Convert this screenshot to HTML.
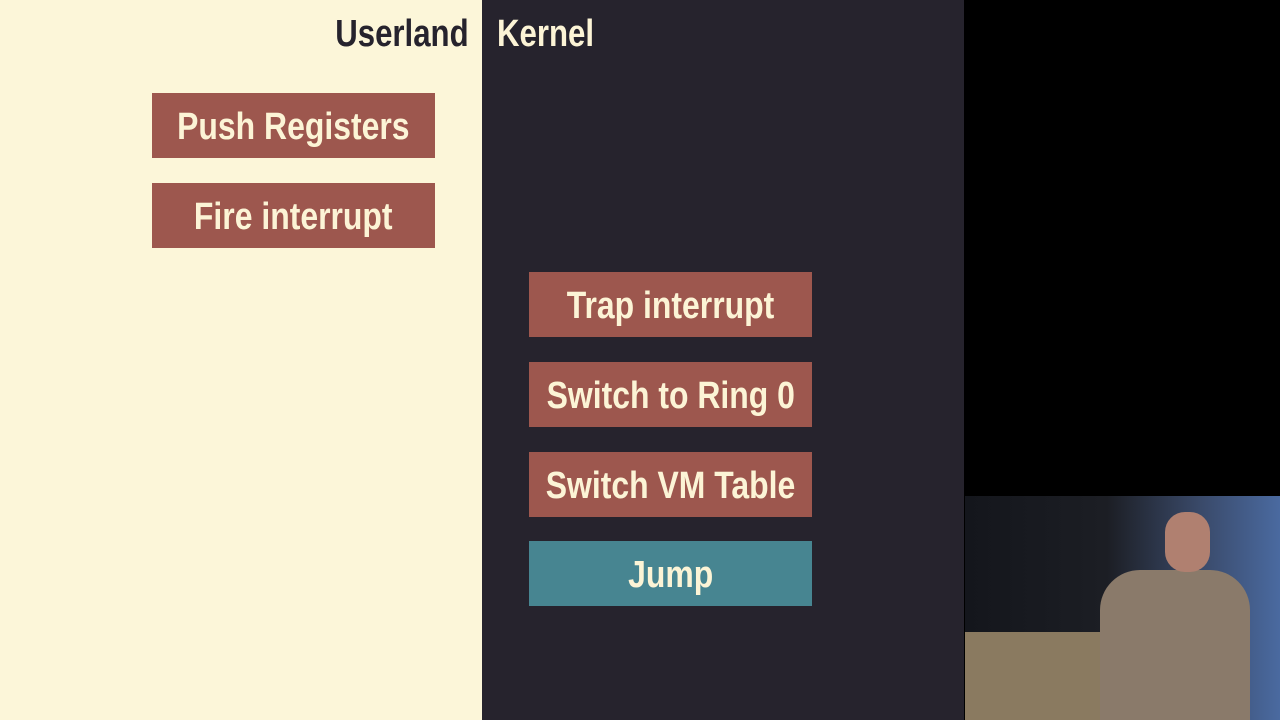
<!DOCTYPE html>
<html><head><meta charset="utf-8"><style>
html,body{margin:0;padding:0;width:1280px;height:720px;overflow:hidden;background:#000}
.p{position:absolute;top:0;height:720px}
.t{position:absolute;font-family:"Liberation Sans",sans-serif;font-weight:bold;font-size:38px;line-height:40px;top:14px;transform:scaleX(0.82)}
.b{position:absolute;width:283px;height:65px;background:#9d574e;color:#fcf4d6;font-family:"Liberation Sans",sans-serif;font-weight:bold;font-size:38px;line-height:69px;display:flex;justify-content:center;white-space:nowrap}
.b span{display:block;flex:none;transform:scaleX(0.84)}
</style></head><body>
<div class="p" style="left:0;width:482px;background:#fcf6d9"></div>
<div class="p" style="left:482px;width:482px;background:#26232d"></div>
<div class="t" style="right:811px;color:#26232d;transform-origin:right center">Userland</div>
<div class="t" style="left:497px;color:#fcf4d6;transform-origin:left center">Kernel</div>
<div class="b" style="left:152px;top:93px"><span>Push Registers</span></div>
<div class="b" style="left:152px;top:183px"><span>Fire interrupt</span></div>
<div class="b" style="left:529px;top:272px"><span>Trap interrupt</span></div>
<div class="b" style="left:529px;top:362px"><span>Switch to Ring 0</span></div>
<div class="b" style="left:529px;top:452px"><span>Switch VM Table</span></div>
<div class="b" style="left:529px;top:541px;background:#478591"><span>Jump</span></div>
<div style="position:absolute;left:965px;top:496px;width:315px;height:224px;background:linear-gradient(90deg,#14161c 0%,#1c1e24 45%,#3a4a6a 75%,#4a6aa0 100%)"></div>
<div style="position:absolute;left:965px;top:632px;width:140px;height:88px;background:#8a7a60"></div>
<div style="position:absolute;left:1100px;top:570px;width:150px;height:150px;background:#8a7a6a;border-radius:40px 40px 0 0"></div>
<div style="position:absolute;left:1165px;top:512px;width:45px;height:60px;background:#b08070;border-radius:20px"></div>
</body></html>
